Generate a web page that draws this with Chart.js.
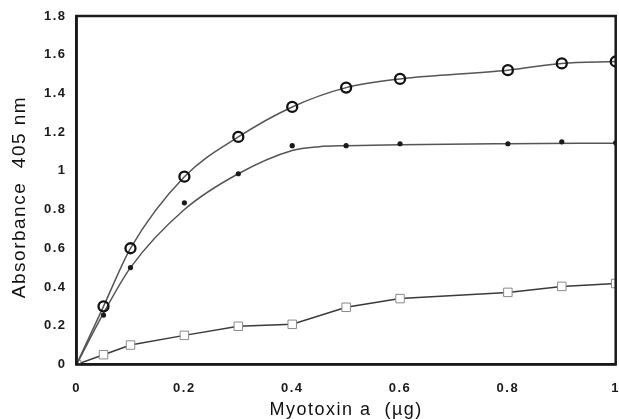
<!DOCTYPE html>
<html>
<head>
<meta charset="utf-8">
<script src="https://cdn.jsdelivr.net/npm/chart.js@4/dist/chart.umd.min.js"></script>
<style>
  html, body { margin: 0; padding: 0; background: #fff; overflow: hidden; }
  #wrap { width: 619px; height: 419px; overflow: hidden; }
</style>
</head>
<body>
<div id="wrap"><canvas id="c" width="623" height="419"></canvas></div>
<script>
// ---- data ----
const doses = [0, 0.05, 0.1, 0.2, 0.3, 0.4, 0.5, 0.6, 0.8, 0.9, 1.0];
const openCircles = [0, 0.30, 0.60, 0.97, 1.175, 1.33, 1.43, 1.475, 1.52, 1.555, 1.565];
const filledDots  = [0, 0.255, 0.50, 0.835, 0.985, 1.13, 1.13, 1.14, 1.14, 1.15, 1.145];
const fitDoses    = [0, 0.05, 0.1, 0.2, 0.3, 0.4, 0.45, 0.5, 0.6, 0.8, 1.0];
const filledDotsFit = [0, 0.265, 0.50, 0.80, 0.985, 1.105, 1.125, 1.13, 1.135, 1.14, 1.143];
const openSquares = [0, 0.05, 0.10, 0.15, 0.197, 0.207, 0.295, 0.34, 0.372, 0.403, 0.418];
const xTickValues = [0, 0.2, 0.4, 0.6, 0.8, 1];
const yTickValues = [0, 0.2, 0.4, 0.6, 0.8, 1, 1.2, 1.4, 1.6, 1.8];
const xTitle = 'Myotoxin a  (µg)';
const yTitle = 'Absorbance  405 nm  ';

const pts = (xs, ys) => xs.map((x, i) => ({ x: x, y: ys[i] }));
const fmt = (v) => String(+Number(v).toFixed(2));

const letterSpacing = {
  id: 'letterSpacing',
  beforeUpdate(chart) { chart.ctx.letterSpacing = '1.5px'; },
  beforeDraw(chart) { chart.ctx.letterSpacing = '1.5px'; }
};

const frame = {
  id: 'frame',
  afterDatasetsDraw(chart) {
    const { ctx, chartArea: a } = chart;
    ctx.save();
    ctx.strokeStyle = '#1a1a1a';
    ctx.lineWidth = 2.5;
    ctx.strokeRect(a.left, a.top, a.right - a.left, a.bottom - a.top);
    ctx.restore();
  }
};

const FONT = "'Liberation Sans', Arial, sans-serif";

new Chart(document.getElementById('c'), {
  type: 'scatter',
  data: {
    datasets: [
      {
        label: 'open circles',
        data: pts(doses, openCircles),
        showLine: true,
        cubicInterpolationMode: 'monotone',
        borderColor: '#555',
        borderWidth: 1.5,
        pointStyle: 'circle',
        pointRadius: doses.map(x => x === 0 ? 0 : 5),
        pointBorderWidth: 2.3,
        pointBorderColor: '#111',
        pointBackgroundColor: 'rgba(255,255,255,0)',
        order: 1
      },
      {
        label: 'filled dots fit',
        data: pts(fitDoses, filledDotsFit),
        showLine: true,
        cubicInterpolationMode: 'monotone',
        borderColor: '#555',
        borderWidth: 1.5,
        pointRadius: 0,
        order: 3
      },
      {
        label: 'filled dots',
        data: pts(doses, filledDots),
        showLine: false,
        pointStyle: 'circle',
        pointRadius: doses.map(x => x === 0 ? 0 : 2.6),
        pointBorderWidth: 0,
        pointBackgroundColor: '#1a1a1a',
        order: 2
      },
      {
        label: 'open squares',
        data: pts(doses, openSquares),
        showLine: true,
        tension: 0,
        borderColor: '#3a3a3a',
        borderWidth: 1.5,
        pointStyle: 'rect',
        pointRadius: 6,
        pointBorderWidth: 1,
        pointBorderColor: '#8a8a8a',
        pointBackgroundColor: '#fff',
        order: 4
      }
    ]
  },
  options: {
    responsive: false,
    animation: false,
    layout: { padding: { top: 16, right: 0, left: 10, bottom: 0 } },
    plugins: { legend: { display: false }, tooltip: { enabled: false } },
    scales: {
      x: {
        type: 'linear',
        min: 0, max: 1,
        afterBuildTicks: (s) => { s.ticks = xTickValues.map(v => ({ value: v })); },
        afterFit: (s) => { s.paddingRight = 0; s.paddingLeft = 0; },
        grid: { display: false, drawOnChartArea: false, drawTicks: true, tickLength: 4, tickColor: '#444' },
        border: { display: true, color: '#1a1a1a', width: 2.5 },
        ticks: { color: '#1a1a1a', font: { family: FONT, size: 13, weight: 'bold' }, padding: 12, maxRotation: 0, callback: fmt },
        title: { display: true, text: xTitle, color: '#111', font: { family: FONT, size: 18, lineHeight: 1 }, padding: { top: -7, bottom: 0 } }
      },
      y: {
        type: 'linear',
        min: 0, max: 1.8,
        afterBuildTicks: (s) => { s.ticks = yTickValues.map(v => ({ value: v })); },
        grid: { display: false, drawOnChartArea: false, drawTicks: true, tickLength: 4, tickColor: '#444' },
        border: { display: true, color: '#1a1a1a', width: 2.5 },
        ticks: { color: '#1a1a1a', font: { family: FONT, size: 13, weight: 'bold' }, padding: 6, callback: fmt },
        title: { display: true, text: yTitle, color: '#111', font: { family: FONT, size: 19, lineHeight: 1 }, padding: { top: 0, bottom: 9 } }
      }
    }
  },
  plugins: [letterSpacing, frame]
});
</script>
</body>
</html>
